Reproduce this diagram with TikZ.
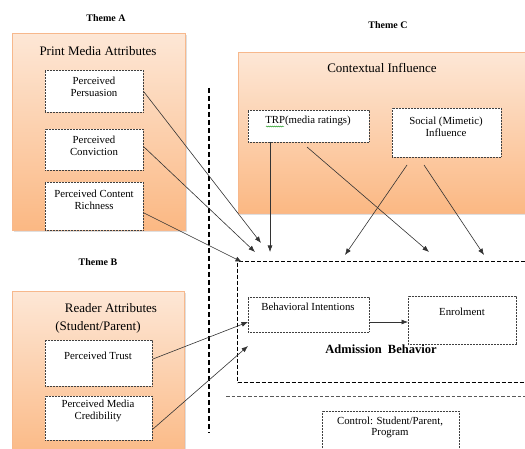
\documentclass[tikz,border=0pt]{standalone}
\usepackage{fontspec}
\setmainfont{Liberation Serif}
\usetikzlibrary{arrows.meta,shadows,decorations.pathmorphing}
\definecolor{peachtop}{HTML}{FDE7D6}
\definecolor{peachbot}{HTML}{FBB883}
\definecolor{peachline}{HTML}{F7B88C}
\definecolor{boxline}{HTML}{404040}
\begin{document}
\begin{tikzpicture}[x=1pt,y=-1pt,
  bigbox/.style={draw=peachline, line width=0.8pt, top color=peachtop, bottom color=peachbot,
    anchor=north west, inner sep=0pt,
    drop shadow={opacity=0.25, shadow xshift=1.2pt, shadow yshift=-1.2pt}},
  smallbox/.style={draw=boxline, fill=white, line width=0.6pt, dash pattern=on 0.9pt off 0.6pt,
    anchor=north west, inner sep=0pt},
  txt/.style={inner sep=0pt, align=center, font=\fontsize{10.8}{11.8}\selectfont},
  title/.style={inner sep=0pt, align=center, font=\fontsize{13}{14}\selectfont},
  theme/.style={inner sep=0pt, font=\fontsize{10}{11}\selectfont\bfseries},
  conn/.style={draw=black!80, line width=0.6pt, -{Latex[length=6.5pt,width=5pt]}},
  bigdash/.style={draw=black, line width=1.3pt, dash pattern=on 5pt off 3pt}
]
\useasboundingbox (0,0) rectangle (525,449);

% Themes
\node[theme] (thA) at (106,18) {Theme A};
\node[theme] (thC) at (388,25) {Theme C};
\node[theme] (thB) at (98,262) {Theme B};

% Theme A block
\node[bigbox, minimum width=173pt, minimum height=197pt] (pma) at (12,33) {};
\node[title] (pmat) at (98,51) {Print Media Attributes};
\node[smallbox, minimum width=98pt, minimum height=42pt] (pp) at (45,70) {};
\node[txt] (ppt) at (94,86.5) {Perceived\\Persuasion};
\node[smallbox, minimum width=98pt, minimum height=41pt] (pc) at (45,129) {};
\node[txt] (pct) at (94,146) {Perceived\\Conviction};
\node[smallbox, minimum width=98pt, minimum height=48pt] (pcr) at (45,182) {};
\node[txt] (pcrt) at (94,200) {Perceived Content\\Richness};

% Theme C block
\node[bigbox, minimum width=292pt, minimum height=161pt] (ci) at (238,52) {};
\node[title] (cit) at (382,68) {Contextual Influence};
\node[smallbox, minimum width=121pt, minimum height=32pt] (trp) at (248,110) {};
\node[txt] (trpt) at (308,121) {TRP(media ratings)};
\draw[green!55!black, line width=0.4pt, decorate, decoration={snake, amplitude=0.5pt, segment length=2pt}]
  (266,126.5) -- (284,126.5);
\node[smallbox, minimum width=109pt, minimum height=49pt] (smi) at (392,108) {};
\node[txt] (smit) at (446,126.5) {Social (Mimetic)\\Influence};

% Theme B block
\node[bigbox, minimum width=172pt, minimum height=170pt] (ra) at (12,291) {};
\node[title] (rat) at (111,308) {Reader Attributes};
\node[title] (rat2) at (98,327) {(Student/Parent)};
\node[smallbox, minimum width=107pt, minimum height=46pt] (pt) at (45,340) {};
\node[txt] (ptt) at (98,356) {Perceived Trust};
\node[smallbox, minimum width=107pt, minimum height=44pt] (pmc) at (45,396) {};
\node[txt] (pmct) at (98,411) {Perceived Media\\Credibility};

% Separators
\coordinate (vt) at (209,88);
\coordinate (vb) at (209,433);
\draw[bigdash] (vt) -- (vb);
\coordinate (hl) at (226,396);
\coordinate (hr) at (525,396);
\draw[draw=black!65, line width=0.8pt, dash pattern=on 3.5pt off 2pt] (hl) -- (hr);

% Admission behavior
\node[draw=black, line width=1.3pt, dash pattern=on 4pt off 2pt, anchor=north west, inner sep=0pt,
  minimum width=293pt, minimum height=121pt] (ab) at (237,261) {};
\node[smallbox, minimum width=121pt, minimum height=35pt] (bi) at (248,297) {};
\node[txt] (bit) at (308,307) {Behavioral Intentions};
\node[smallbox, minimum width=108pt, minimum height=48pt] (en) at (408,296) {};
\node[txt] (ent) at (462,312) {Enrolment};
\node[inner sep=0pt, font=\fontsize{12.5}{13}\selectfont\bfseries] (abt) at (381,349) {Admission\ \ Behavior};

% Control
\node[smallbox, minimum width=137pt, minimum height=44pt] (ctrl) at (322,411) {};
\node[txt] (ctrlt) at (390,427.5) {Control: Student/Parent,\\Program};

% Connector points
\coordinate (ppS) at (144,92);
\coordinate (ppE) at (261,243);
\coordinate (pcS) at (144,147);
\coordinate (pcE) at (255,252);
\coordinate (pcrS) at (144,213);
\coordinate (pcrE) at (242,262);
\coordinate (trpS1) at (270,142);
\coordinate (trpE1) at (270,252);
\coordinate (trpS2) at (307,147);
\coordinate (trpE2) at (429,252);
\coordinate (smiS1) at (407,165);
\coordinate (smiE1) at (345,255);
\coordinate (smiS2) at (424,165);
\coordinate (smiE2) at (484,255);
\coordinate (ptS) at (153,359);
\coordinate (ptE) at (248,322);
\coordinate (pmcS) at (153,429);
\coordinate (pmcE) at (248,346);

\draw[conn] (ppS) -- (ppE);
\draw[conn] (pcS) -- (pcE);
\draw[conn] (pcrS) -- (pcrE);
\draw[conn] (trpS1) -- (trpE1);
\draw[conn] (trpS2) -- (trpE2);
\draw[conn] (smiS1) -- (smiE1);
\draw[conn] (smiS2) -- (smiE2);
\draw[conn] (ptS) -- (ptE);
\draw[conn] (pmcS) -- (pmcE);
\draw[conn] (bi.east |- 0,322) -- (en.west |- 0,322);
\end{tikzpicture}
\end{document}
